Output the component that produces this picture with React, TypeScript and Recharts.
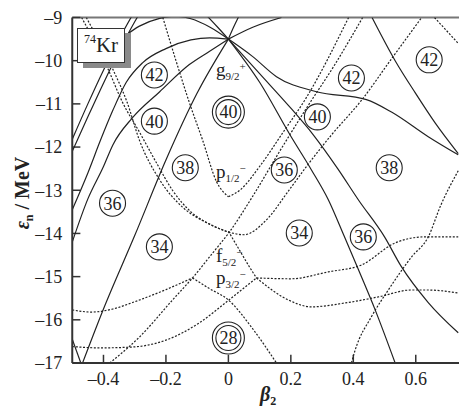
import React from "react";
import { LineChart, Line, XAxis, YAxis, ReferenceLine, ReferenceDot } from "recharts";

type Pt = { b: number; e: number };
const toPts = (rows: number[][]): Pt[] => rows.map(([b, e]) => ({ b, e }));

// tick values
const xTicks = [-0.4, -0.2, 0, 0.2, 0.4, 0.6];
const yTicks = [-17, -16, -15, -14, -13, -12, -11, -10, -9];

// positive parity (solid) levels, [beta2, energy]
const s1a = toPts([[-0.5, -11.82], [-0.45, -11.0], [-0.4, -10.22], [-0.35, -9.5], [-0.3, -8.85]]);
const s1b = toPts([[-0.5, -12.1], [-0.45, -11.3], [-0.4, -10.52], [-0.35, -9.78], [-0.3, -9.1], [-0.28, -8.85]]);
const g52Obl = toPts([[-0.5, -13.45], [-0.45, -12.6], [-0.41, -11.85], [-0.37, -11.15], [-0.327, -10.5], [-0.275, -10.05], [-0.2, -9.72], [-0.12, -9.52], [-0.06, -9.47], [0, -9.5]]);
const g72Obl = toPts([[-0.5, -14.2], [-0.45, -13.2], [-0.4, -12.45], [-0.37, -11.95], [-0.307, -11.32], [-0.22, -10.72], [-0.125, -10.09], [-0.06, -9.78], [0, -9.5]]);
const g92Obl = toPts([[-0.467, -17], [-0.4, -15.75], [-0.3, -14.05], [-0.2, -12.3], [-0.1, -10.75], [0, -9.5]]);
const cornerLow = toPts([[-0.5, -16.45], [-0.47, -17.05]]);
const g32Obl = toPts([[-0.33, -9.42], [-0.285, -9.2], [-0.22, -9.02], [-0.17, -8.97], [-0.12, -9.03], [-0.06, -9.22], [0, -9.5]]);
const g12Obl = toPts([[-0.07, -8.95], [-0.035, -9.22], [0, -9.5]]);
const g92Pro = toPts([[0, -9.5], [0.015, -9.25], [0.035, -8.95]]);
const g72Pro = toPts([[0, -9.5], [0.08, -9.22], [0.17, -9.0]]);
const g52Pro = toPts([[0, -9.5], [0.077, -9.9], [0.154, -10.37], [0.282, -10.72], [0.442, -10.9], [0.525, -11.2], [0.64, -11.76], [0.736, -12.18]]);
const g32Pro = toPts([[0, -9.5], [0.1, -10.3], [0.2, -11.1], [0.27, -11.7], [0.35, -12.5], [0.416, -13.22], [0.5, -14.08], [0.554, -14.77], [0.64, -15.6], [0.736, -16.3]]);
const g12Pro = toPts([[0, -9.5], [0.1, -10.5], [0.2, -11.75], [0.266, -12.53], [0.32, -13.22], [0.37, -14.05], [0.42, -14.9], [0.47, -15.77], [0.534, -17]]);
const upperRight = toPts([[0.46, -9.0], [0.534, -10.0], [0.598, -10.74], [0.662, -11.44], [0.736, -12.15]]);

// negative parity (dashed) levels
const p12Left = toPts([[-0.21, -9.0], [-0.17, -9.95], [-0.125, -10.97], [-0.083, -11.83], [-0.038, -12.8], [0, -13.15]]);
const p12Right = toPts([[0, -13.15], [0.038, -12.99], [0.1, -12.45], [0.174, -11.67], [0.25, -10.85], [0.385, -9.0]]);
const steepNeg = toPts([[-0.38, -17], [-0.285, -16.4], [-0.18, -15.55], [-0.115, -15.03], [-0.05, -14.45], [0, -14.0], [0.077, -13.15], [0.154, -12.22], [0.25, -11.1], [0.34, -10.1], [0.43, -9.0]]);
const wingA = toPts([[-0.47, -9.0], [-0.385, -10.2], [-0.34, -10.95], [-0.285, -11.65], [-0.23, -12.37], [-0.179, -13.0], [-0.12, -13.5], [-0.05, -13.82], [0, -13.97]]);
const wingB = toPts([[-0.455, -9.0], [-0.37, -10.2], [-0.325, -10.95], [-0.285, -11.84], [-0.22, -12.76], [-0.147, -13.39], [-0.07, -13.75], [0, -13.97]]);
const f52Right = toPts([[0, -13.97], [0.05, -14.03], [0.12, -13.7], [0.195, -12.99], [0.25, -12.45], [0.33, -11.72], [0.427, -10.91], [0.52, -9.98], [0.619, -9.0]]);
const f52Down = toPts([[0, -13.95], [0.035, -14.38], [0.067, -14.77], [0.09, -15.03]]);
const flatRight = toPts([[0.09, -15.03], [0.2, -15.05], [0.32, -14.89], [0.426, -14.73], [0.534, -14.22], [0.627, -14.08], [0.736, -14.08]]);
const p32Right = toPts([[0.09, -15.03], [0.192, -15.54], [0.266, -15.7], [0.374, -15.61], [0.48, -15.47], [0.586, -15.31], [0.64, -15.31], [0.736, -15.38]]);
const p32LeftUp = toPts([[-0.5, -15.77], [-0.44, -15.82], [-0.37, -15.75], [-0.307, -15.6], [-0.2, -15.3], [-0.115, -15.03]]);
const p32LeftDown = toPts([[-0.115, -15.03], [-0.06, -15.28], [0, -15.54], [0.077, -16.2], [0.154, -17]]);
const f72Low = toPts([[-0.5, -16.62], [-0.41, -16.65], [-0.307, -16.63], [-0.2, -16.47], [-0.093, -16.07], [0, -15.55], [0.09, -15.03]]);
const steepRight = toPts([[0.394, -17], [0.406, -16.7], [0.458, -15.93], [0.512, -15.31], [0.587, -14.54], [0.64, -14.08], [0.68, -13.35], [0.736, -12.55]]);
const topRightDash = toPts([[0.66, -9.0], [0.736, -9.6]]);

const solidLevels = [s1a, s1b, g52Obl, g72Obl, g92Obl, cornerLow, g32Obl, g12Obl, g92Pro, g72Pro, g52Pro, g32Pro, g12Pro, upperRight];
const dashedLevels = [p12Left, p12Right, steepNeg, wingA, wingB, f52Right, f52Down, flatRight, p32Right, p32LeftUp, p32LeftDown, f72Low, steepRight, topRightDash];

// shell gap numbers
const gapLabels = [
  { n: "42", b: -0.237, e: -10.33, double: false },
  { n: "40", b: -0.237, e: -11.4, double: false },
  { n: "38", b: -0.138, e: -12.48, double: false },
  { n: "36", b: -0.371, e: -13.3, double: false },
  { n: "34", b: -0.221, e: -14.31, double: false },
  { n: "40", b: 0, e: -11.19, double: true },
  { n: "36", b: 0.179, e: -12.53, double: false },
  { n: "42", b: 0.394, e: -10.4, double: false },
  { n: "40", b: 0.285, e: -11.3, double: false },
  { n: "42", b: 0.643, e: -9.98, double: false },
  { n: "38", b: 0.515, e: -12.48, double: false },
  { n: "34", b: 0.227, e: -13.99, double: false },
  { n: "36", b: 0.432, e: -14.08, double: false },
  { n: "28", b: 0, e: -16.42, double: true },
];

// spherical orbital names
const orbitals = [
  { l: "g", sub: "9/2", sup: "+", b: -0.04, e: -10.36 },
  { l: "p", sub: "1/2", sup: "\u2212", b: -0.04, e: -12.72 },
  { l: "f", sub: "5/2", sup: "\u2212", b: -0.04, e: -14.66 },
  { l: "p", sub: "3/2", sup: "\u2212", b: -0.04, e: -15.17 },
];

const serif = "Liberation Serif, Times New Roman, serif";
const ink = "#222";
const fmt = (v: number) => String(v).replace("-", "\u2013");

export default function App() {
  return (
    <div style={{ position: "absolute", left: 0, top: 0, width: 459, height: 408, overflow: "hidden", background: "#fff" }}>
      <LineChart width={470} height={408} margin={{ top: 17.5, right: 7.4, bottom: 0, left: 12.25 }}>
        <XAxis
          dataKey="b"
          type="number"
          domain={[-0.5, 0.75]}
          allowDataOverflow
          ticks={xTicks}
          tickFormatter={fmt}
          tickLine={false}
          tickSize={0}
          tickMargin={9}
          height={45}
          axisLine={{ stroke: "#333", strokeWidth: 2 }}
          tick={{ fontFamily: serif, fontSize: 18, fill: ink }}
        />
        <YAxis
          dataKey="e"
          type="number"
          domain={[-17, -9]}
          allowDataOverflow
          ticks={yTicks}
          tickFormatter={fmt}
          tickLine={false}
          tickSize={0}
          tickMargin={10}
          width={60}
          axisLine={{ stroke: "#333", strokeWidth: 2 }}
          tick={{ fontFamily: serif, fontSize: 18, fill: ink }}
        />
        <ReferenceLine y={-9} stroke="#777" strokeWidth={2} />
        {xTicks.map((t) => (
          <ReferenceLine key={"xt" + t} segment={[{ x: t, y: -17 }, { x: t, y: -16.81 }]} stroke="#333" strokeWidth={1.5} />
        ))}
        {yTicks.map((t) => (
          <ReferenceLine key={"yt" + t} segment={[{ x: -0.5, y: t }, { x: -0.474, y: t }]} stroke="#333" strokeWidth={1.5} />
        ))}
        {solidLevels.map((d, i) => (
          <Line key={"s" + i} data={d} dataKey="e" type="monotone" dot={false} stroke={ink} strokeWidth={1.2} isAnimationActive={false} />
        ))}
        {dashedLevels.map((d, i) => (
          <Line key={"d" + i} data={d} dataKey="e" type="monotone" dot={false} stroke={ink} strokeWidth={1.2} strokeDasharray="2 1.6" isAnimationActive={false} />
        ))}
        {gapLabels.filter((g) => g.double).map((g, i) => (
          <ReferenceDot key={"o" + i} x={g.b} y={g.e} r={16} fill="#fff" stroke={ink} strokeWidth={1.1} />
        ))}
        {gapLabels.map((g, i) => (
          <ReferenceDot
            key={"g" + i}
            x={g.b}
            y={g.e}
            r={g.double ? 12.5 : 13}
            fill="#fff"
            stroke={ink}
            strokeWidth={1.1}
            label={{ value: g.n, position: "center", fontFamily: serif, fontSize: 18, fill: ink }}
          />
        ))}
        {orbitals.map((o, i) => (
          <ReferenceDot
            key={"l" + i}
            x={o.b}
            y={o.e}
            r={1}
            fill="none"
            stroke="none"
            label={{
              content: (p: any) => {
                const vb = p.viewBox || {};
                const x = (vb.x ?? 0) + (vb.width ?? 0) / 2;
                const y = (vb.y ?? 0) + (vb.height ?? 0) / 2;
                return (
                  <text x={x} y={y} fontFamily={serif} fill={ink}>
                    <tspan fontSize={19}>{o.l}</tspan>
                    <tspan fontSize={11} dy={4}>{o.sub}</tspan>
                    <tspan fontSize={11} dy={-10}>{o.sup}</tspan>
                  </text>
                );
              },
            }}
          />
        ))}
      </LineChart>
      <div
        style={{
          position: "absolute",
          left: 77,
          top: 28,
          width: 46,
          height: 33,
          border: "1.3px solid #333",
          background: "#fff",
          boxShadow: "6px 5px 0 #8a8a8a",
          display: "flex",
          alignItems: "center",
          justifyContent: "center",
          fontFamily: serif,
          fontSize: 21,
          color: ink,
        }}
      >
        <span style={{ fontSize: 12, position: "relative", top: -6 }}>74</span>
        <span>Kr</span>
      </div>
      <div
        style={{
          position: "absolute",
          left: 22 - 70,
          top: 193 - 12,
          width: 140,
          height: 24,
          lineHeight: "24px",
          transform: "rotate(-90deg)",
          textAlign: "center",
          fontFamily: serif,
          fontWeight: "bold",
          fontSize: 20,
          color: ink,
          whiteSpace: "nowrap",
        }}
      >
        <i>ε</i>
        <span style={{ fontSize: 12, position: "relative", top: 4 }}>n</span> / MeV
      </div>
      <div
        style={{
          position: "absolute",
          left: 248,
          top: 384,
          width: 40,
          textAlign: "center",
          fontFamily: serif,
          fontWeight: "bold",
          fontSize: 20,
          lineHeight: "20px",
          color: ink,
        }}
      >
        <i>β</i>
        <span style={{ fontSize: 12, position: "relative", top: 4 }}>2</span>
      </div>
    </div>
  );
}
